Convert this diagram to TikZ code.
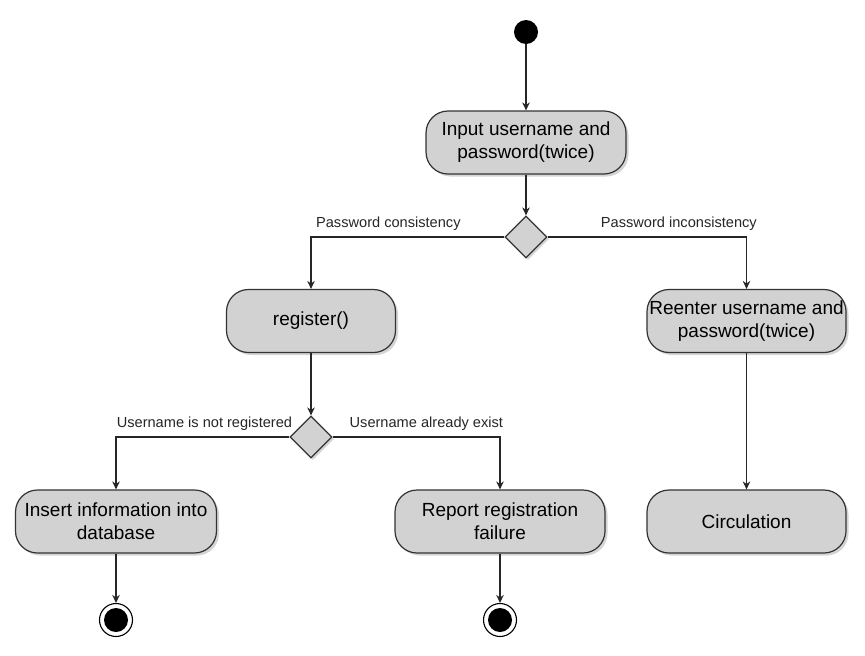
\documentclass[tikz,border=0pt]{standalone}
\usepackage{fontspec}
\setmainfont{Liberation Sans}
\usetikzlibrary{shapes.geometric,arrows.meta,shadows}
\begin{document}
\begin{tikzpicture}[x=1pt,y=-1pt,
  act/.style={draw=black!80, line width=1.2pt, fill=gray!35, rounded corners=22pt,
    minimum height=63pt, align=center, inner sep=1pt,
    font=\fontsize{19}{23}\selectfont,
    drop shadow={shadow xshift=2.5pt, shadow yshift=-2.5pt, fill=gray!55, opacity=0.6}},
  dec/.style={draw=black!80, line width=1.2pt, fill=gray!35, diamond, minimum width=42pt, minimum height=42pt, inner sep=0pt,
    drop shadow={shadow xshift=2pt, shadow yshift=-2pt, fill=gray!55, opacity=0.6}},
  conn/.style={draw=black!85, line width=1.1pt, -{Stealth[length=8pt,width=7.5pt]}},
  lbl/.style={font=\fontsize{14.6}{17}\selectfont, text=black!85, inner sep=0pt}
]
\useasboundingbox (0,0) rectangle (865,656);
\fill[white] (0,0) rectangle (865,656);

\node[circle, fill=black, minimum size=24pt, inner sep=0pt] (start) at (526,32) {};
\node[act, minimum width=200pt] (input) at (526,142.5) {Input username and\\password(twice)};
\node[dec] (d1) at (526,237) {};
\node[act, minimum width=169pt] (reg) at (311,321) {register()};
\node[act, minimum width=199pt] (reenter) at (746.5,321) {Reenter username and\\password(twice)};
\node[dec] (d2) at (311,437) {};
\node[act, minimum width=201pt] (insert) at (116,521.5) {Insert information into\\database};
\node[act, minimum width=210pt] (report) at (500,521.5) {Report registration\\failure};
\node[act, minimum width=199pt] (circ) at (746.5,521.5) {Circulation};

\node[circle, draw=black, line width=1.1pt, fill=white, minimum size=33pt, inner sep=0pt] (end1) at (116,620) {};
\fill[black] (end1.center) circle (12pt);
\node[circle, draw=black, line width=1.1pt, fill=white, minimum size=33pt, inner sep=0pt] (end2) at (500,620) {};
\fill[black] (end2.center) circle (12pt);

\draw[conn] (start) -- (input);
\draw[conn] (input) -- (d1);
\draw[conn] (d1.west) -| node[lbl, pos=0.3, yshift=13pt] {Password consistency} (reg.north);
\draw[conn] (d1.east) -| node[lbl, pos=0.33, yshift=13pt] {Password inconsistency} (reenter.north);
\draw[conn] (reg.south) -- (d2.north);
\draw[conn] (d2.west) -| node[lbl, pos=0.245, yshift=13pt] {Username is not registered} (insert.north);
\draw[conn] (d2.east) -| node[lbl, pos=0.28, yshift=13pt] {Username already exist} (report.north);
\draw[conn] (reenter) -- (circ);
\draw[conn] (insert) -- (end1);
\draw[conn] (report) -- (end2);
\end{tikzpicture}
\end{document}
